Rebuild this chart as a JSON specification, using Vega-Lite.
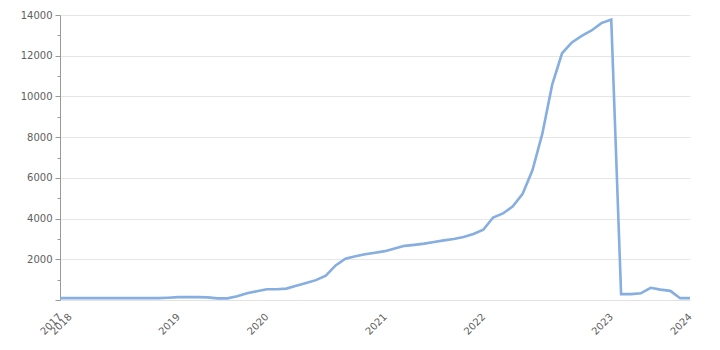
{
  "$schema": "https://vega.github.io/schema/vega-lite/v6.json",
  "width": 630,
  "height": 285,
  "autosize": "none",
  "padding": {"left": 60, "top": 15, "right": 30, "bottom": 50},
  "background": "white",
  "config": {"view": {"stroke": null}, "font": "DejaVu Sans"},
  "data": {"values": [
    {"t": "2017-01", "v": 90},
    {"t": "2018-01", "v": 90},
    {"t": "2018-02", "v": 90},
    {"t": "2018-03", "v": 90},
    {"t": "2018-04", "v": 90},
    {"t": "2018-05", "v": 90},
    {"t": "2018-06", "v": 90},
    {"t": "2018-07", "v": 90},
    {"t": "2018-08", "v": 90},
    {"t": "2018-09", "v": 90},
    {"t": "2018-10", "v": 90},
    {"t": "2018-11", "v": 110},
    {"t": "2019-01", "v": 140},
    {"t": "2019-02", "v": 140},
    {"t": "2019-03", "v": 140},
    {"t": "2019-04", "v": 130},
    {"t": "2019-05", "v": 80},
    {"t": "2019-06", "v": 80},
    {"t": "2019-07", "v": 180},
    {"t": "2019-08", "v": 330},
    {"t": "2019-09", "v": 430},
    {"t": "2020-01", "v": 525},
    {"t": "2020-02", "v": 530},
    {"t": "2020-03", "v": 560},
    {"t": "2020-04", "v": 700},
    {"t": "2020-05", "v": 835},
    {"t": "2020-06", "v": 975},
    {"t": "2020-07", "v": 1200},
    {"t": "2020-08", "v": 1700},
    {"t": "2020-09", "v": 2030},
    {"t": "2020-10", "v": 2150},
    {"t": "2020-11", "v": 2250},
    {"t": "2020-12", "v": 2320},
    {"t": "2021-01", "v": 2400},
    {"t": "2021-02", "v": 2530},
    {"t": "2021-03", "v": 2660},
    {"t": "2021-04", "v": 2710},
    {"t": "2021-05", "v": 2770},
    {"t": "2021-06", "v": 2850},
    {"t": "2021-07", "v": 2930},
    {"t": "2021-08", "v": 3000},
    {"t": "2021-09", "v": 3090},
    {"t": "2021-10", "v": 3240},
    {"t": "2022-01", "v": 3450},
    {"t": "2022-02", "v": 4050},
    {"t": "2022-03", "v": 4250},
    {"t": "2022-04", "v": 4600},
    {"t": "2022-05", "v": 5220},
    {"t": "2022-06", "v": 6380},
    {"t": "2022-07", "v": 8170},
    {"t": "2022-08", "v": 10580},
    {"t": "2022-09", "v": 12120},
    {"t": "2022-10", "v": 12650},
    {"t": "2022-11", "v": 12970},
    {"t": "2022-12", "v": 13240},
    {"t": "2022-13", "v": 13600},
    {"t": "2023-01", "v": 13780},
    {"t": "2023-02", "v": 290},
    {"t": "2023-03", "v": 290},
    {"t": "2023-04", "v": 330},
    {"t": "2023-05", "v": 600},
    {"t": "2023-06", "v": 510},
    {"t": "2023-07", "v": 450},
    {"t": "2023-08", "v": 90},
    {"t": "2024-01", "v": 90}
  ]},
  "mark": {"type": "line", "color": "#86aee0", "strokeWidth": 2.6, "interpolate": "linear"},
  "encoding": {
    "x": {
      "field": "t",
      "type": "ordinal",
      "sort": null,
      "scale": {"type": "point", "padding": 0},
      "title": null,
      "axis": {
        "values": ["2017-01", "2018-01", "2019-01", "2020-01", "2021-01", "2022-01", "2023-01", "2024-01"],
        "labelExpr": "split(datum.label, '-')[0]",
        "labelAngle": -45,
        "labelAlign": "right",
        "labelBaseline": "middle",
        "labelPadding": 15,
        "labelFontSize": 10,
        "labelColor": "#606060",
        "labelOverlap": false,
        "ticks": false,
        "domain": true,
        "domainColor": "#e3e3e3",
        "grid": false
      }
    },
    "y": {
      "field": "v",
      "type": "quantitative",
      "scale": {"domain": [0, 14000], "nice": false},
      "title": null,
      "axis": {
        "values": [0, 1000, 2000, 3000, 4000, 5000, 6000, 7000, 8000, 9000, 10000, 11000, 12000, 13000, 14000],
        "labelExpr": "datum.value > 0 && datum.value % 2000 === 0 ? datum.value + '' : ''",
        "labelFontSize": 10,
        "labelColor": "#606060",
        "labelPadding": 3,
        "domainColor": "#999999",
        "tickColor": "#999999",
        "tickSize": {"condition": {"test": "datum.value % 2000 === 0", "value": 5}, "value": 3},
        "gridColor": "#e6e6e6",
        "gridOpacity": {"condition": {"test": "datum.value > 0 && datum.value % 2000 === 0", "value": 1}, "value": 0}
      }
    }
  }
}
